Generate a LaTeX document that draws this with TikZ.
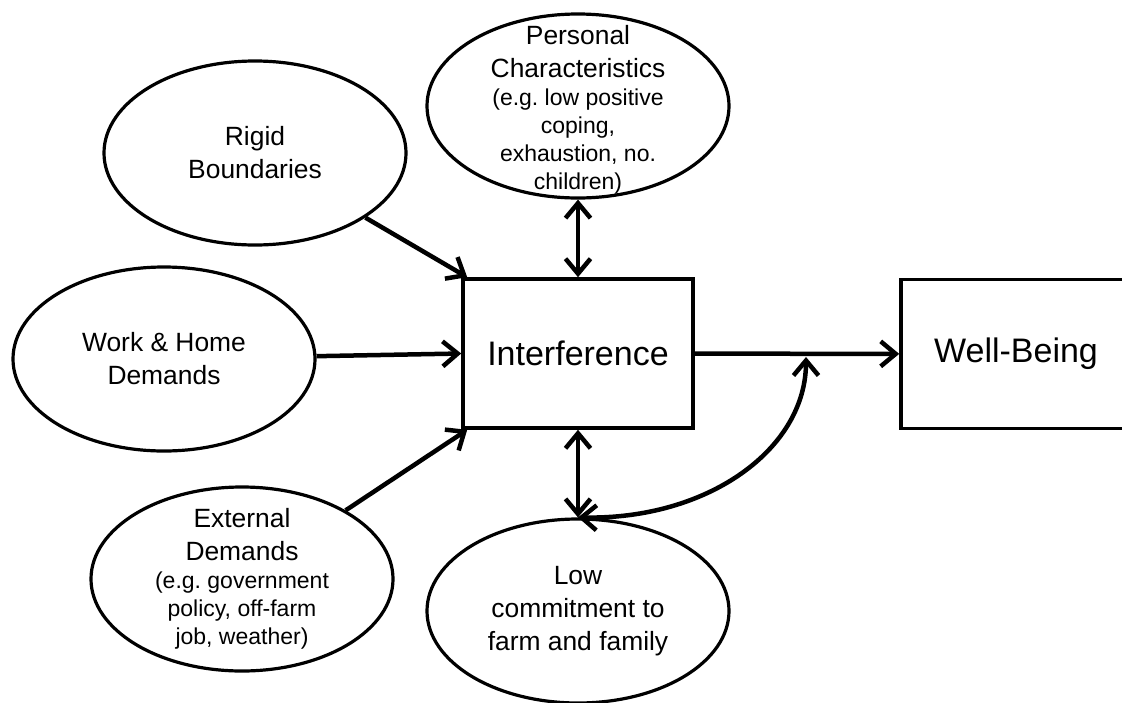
\documentclass[tikz,border=0pt]{standalone}
\usepackage{fontspec}
\setmainfont{Liberation Sans}
\usetikzlibrary{arrows.meta,shapes.geometric}
% text sizes for the factor ellipses
\newcommand\bigtxt{\fontsize{26.4pt}{33pt}\selectfont}
\newcommand\smalltxt{\fontsize{23pt}{28pt}\selectfont}
\newcommand\lines[1]{\parbox{290pt}{\centering\frenchspacing #1\par}}
\begin{document}
\begin{tikzpicture}[x=1pt,y=-1pt,
  factor/.style={ellipse, draw, line width=3.2pt, minimum width=302pt,
    minimum height=184pt, inner sep=0pt},
  block/.style={rectangle, draw, line width=3.6pt, inner sep=0pt,
    minimum width=230pt, minimum height=149pt,
    font=\fontsize{34pt}{40pt}\selectfont},
  txt/.style={inner sep=0pt},
  tip/.tip={Straight Barb[length=15pt,width=25pt]},
  flow/.style={line width=4.5pt, -tip},
  both/.style={line width=4.5pt, tip-tip}]
\useasboundingbox (0,0) rectangle (1122,702);

% outcome boxes
\node[block] (intf) at (578,353.5) {Interference};
\node[block] (wb) at (1016,354) {Well-Being};

% factors
\node[factor] (pers) at (578,106) {};
\node[factor] (rigid) at (255,153) {};
\node[factor] (work) at (164,359) {};
\node[factor] (ext) at (242,579) {};
\node[factor] (low) at (578,611) {};

\node[txt] (pers-t) at ([yshift=-4pt]pers) {\lines{\bigtxt Personal\par Characteristics\par
  \smalltxt (e.g. low positive\par coping,\par exhaustion, no.\par children)}};
\node[txt] (rigid-t) at (rigid) {\lines{\bigtxt Rigid\par Boundaries}};
\node[txt] (work-t) at (work) {\lines{\bigtxt Work \& Home\par Demands}};
\node[txt] (ext-t) at (ext) {\lines{\bigtxt External\par Demands\par
  \smalltxt (e.g. government\par policy, off-farm\par job, weather)}};
\node[txt] (low-t) at (low) {\lines{\bigtxt Low\par commitment to\par farm and family}};

% connectors
\draw[flow] (rigid) -- ([xshift=6pt]intf.north west);
\draw[flow] (work) -- (intf.west);
\draw[flow] (ext) -- ([xshift=6pt]intf.south west);
\draw[both] (pers) -- (intf);
\draw[both] (intf) -- (low);
\draw[flow] (intf) -- (wb);
\coordinate (fork) at (806,357);
\draw[both] (fork) .. controls (806,449) and (708,520) .. (low.north);
\end{tikzpicture}
\end{document}
